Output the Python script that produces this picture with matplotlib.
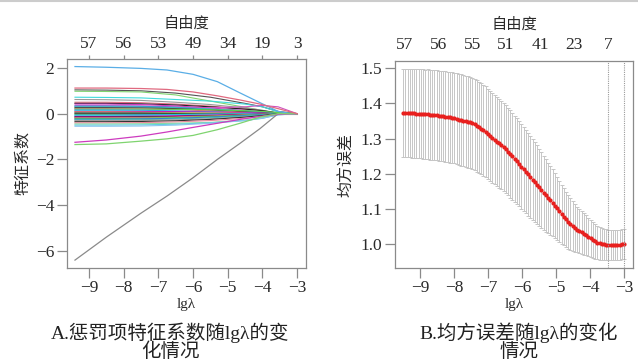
import numpy as np
import matplotlib.pyplot as plt
from matplotlib.lines import Line2D

plt.rcParams['font.family'] = ['Liberation Serif', 'Noto Sans CJK SC']
plt.rcParams['axes.unicode_minus'] = True

# ---- A: coefficient paths (lg lambda knots, coefficient values) ----
big_x = [-9.4, -8.5, -7.5, -6.75, -6.0, -5.3, -4.65, -4.07, -3.55, -3.2, -3.0]
big_paths = [
    [2.06, 2.03, 1.98, 1.91, 1.72, 1.40, 0.91, 0.48, 0.10, 0.01, 0.0],
    [-6.40, -5.40, -4.35, -3.60, -2.80, -2.00, -1.30, -0.65, 0.0, 0.0, 0.0],
    [-1.25, -1.15, -0.98, -0.80, -0.60, -0.42, -0.25, -0.12, -0.03, 0.0, 0.0],
    [-1.35, -1.32, -1.20, -1.10, -0.95, -0.70, -0.42, -0.15, 0.0, 0.0, 0.0],
    [1.12, 1.12, 1.10, 1.06, 0.95, 0.78, 0.60, 0.42, 0.22, 0.08, 0.0],
]
big_colors = ['#5aaee6', '#8a8a8a', '#cd3bbf', '#7fd46f', '#e06a80']

path_x = [-9.4, -8.5, -7.5, -6.5, -5.5, -4.5, -4.0, -3.55, -3.0]
upper_paths = [
    [1.04, 1.03, 1.00, 0.90, 0.72, 0.45, 0.30, 0.10, 0.0],
    [0.98, 0.97, 0.95, 0.82, 0.55, 0.28, 0.14, 0.0, 0.0],
    [0.72, 0.71, 0.69, 0.62, 0.55, 0.42, 0.30, 0.08, 0.0],
    [0.62, 0.61, 0.58, 0.50, 0.40, 0.25, 0.15, 0.03, 0.0],
    [0.50, 0.50, 0.48, 0.42, 0.33, 0.20, 0.12, 0.02, 0.0],
    [0.45, 0.45, 0.43, 0.38, 0.30, 0.20, 0.13, 0.03, 0.0],
    [0.42, 0.42, 0.40, 0.34, 0.25, 0.14, 0.08, 0.0, 0.0],
    [0.35, 0.35, 0.34, 0.30, 0.26, 0.30, 0.36, 0.30, 0.0],
    [0.33, 0.33, 0.32, 0.28, 0.20, 0.10, 0.05, 0.0, 0.0],
    [0.30, 0.30, 0.29, 0.26, 0.20, 0.13, 0.08, 0.02, 0.0],
    [0.26, 0.26, 0.25, 0.22, 0.16, 0.08, 0.04, 0.0, 0.0],
    [0.22, 0.22, 0.21, 0.18, 0.12, 0.06, 0.02, 0.0, 0.0],
    [0.20, 0.20, 0.20, 0.19, 0.17, 0.13, 0.10, 0.05, 0.0],
    [0.16, 0.16, 0.15, 0.12, 0.08, 0.04, 0.02, 0.0, 0.0],
    [0.13, 0.13, 0.12, 0.10, 0.06, 0.02, 0.0, 0.0, 0.0],
    [0.10, 0.10, 0.10, 0.09, 0.07, 0.04, 0.02, 0.0, 0.0],
    [0.07, 0.07, 0.06, 0.05, 0.03, 0.01, 0.0, 0.0, 0.0],
    [0.04, 0.04, 0.04, 0.03, 0.02, 0.01, 0.0, 0.0, 0.0],
    [0.02, 0.02, 0.02, 0.01, 0.0, 0.0, 0.0, 0.0, 0.0],
]
upper_colors = ['#555555', '#7fd46f', '#3fd9dc', '#999999', '#e06a80', '#222222',
                '#cd3bbf', '#d050c0', '#2f8fe0', '#3fb8b8', '#333333', '#e06a80',
                '#61d04f', '#2297e6', '#28e2e5', '#cd0bbc', '#e8c030', '#9e9e9e',
                '#111111']

lower_paths = [
    [0.0, 0.0, 0.0, 0.0, 0.0, 0.0, 0.0, 0.0, 0.0],
    [-0.03, -0.03, -0.03, -0.02, -0.01, 0.0, 0.0, 0.0, 0.0],
    [-0.06, -0.06, -0.05, -0.04, -0.02, -0.01, 0.0, 0.0, 0.0],
    [-0.09, -0.09, -0.08, -0.06, -0.04, -0.02, -0.01, 0.0, 0.0],
    [-0.12, -0.12, -0.11, -0.09, -0.06, -0.03, -0.01, 0.0, 0.0],
    [-0.15, -0.15, -0.14, -0.12, -0.09, -0.05, -0.02, 0.0, 0.0],
    [-0.18, -0.18, -0.17, -0.14, -0.10, -0.05, -0.02, 0.0, 0.0],
    [-0.21, -0.21, -0.20, -0.17, -0.12, -0.06, -0.03, 0.0, 0.0],
    [-0.24, -0.24, -0.23, -0.20, -0.15, -0.08, -0.04, 0.0, 0.0],
    [-0.27, -0.27, -0.26, -0.23, -0.18, -0.10, -0.05, 0.0, 0.0],
    [-0.30, -0.30, -0.29, -0.27, -0.22, -0.14, -0.08, -0.01, 0.0],
    [-0.35, -0.35, -0.34, -0.31, -0.25, -0.15, -0.08, 0.0, 0.0],
    [-0.40, -0.40, -0.39, -0.36, -0.30, -0.20, -0.12, -0.02, 0.0],
    [-0.45, -0.45, -0.44, -0.42, -0.38, -0.28, -0.18, -0.03, 0.0],
    [-0.50, -0.50, -0.49, -0.46, -0.40, -0.30, -0.20, -0.05, 0.0],
    [-0.55, -0.55, -0.54, -0.50, -0.42, -0.30, -0.20, -0.05, 0.0],
]
lower_colors = ['#e06a80', '#61d04f', '#2297e6', '#28e2e5', '#cd0bbc', '#222222',
                '#e06a80', '#61d04f', '#2f6fd0', '#3fb8b8', '#9e9e9e', '#333333',
                '#e8889a', '#8fd8a0', '#5fd0e0', '#8cc4ee']

df_ticks_a = [-9, -8, -7, -6, -5, -4, -3]
df_labels_a = ['57', '56', '53', '49', '34', '19', '3']

# ---- B: cross-validated mean squared error ----
lg_lambda = np.linspace(-9.5, -3.0, 100)
cv_mean = [
    1.373, 1.373, 1.373, 1.372, 1.372, 1.372, 1.371, 1.371, 1.371, 1.370,
    1.369, 1.369, 1.368, 1.367, 1.366, 1.366, 1.365, 1.364, 1.363, 1.362,
    1.361, 1.360, 1.359, 1.358, 1.356, 1.354, 1.353, 1.351, 1.349, 1.347,
    1.346, 1.343, 1.340, 1.336, 1.332, 1.328, 1.323, 1.319, 1.314, 1.308,
    1.302, 1.297, 1.291, 1.286, 1.281, 1.276, 1.270, 1.263, 1.256, 1.249,
    1.242, 1.235, 1.228, 1.220, 1.213, 1.206, 1.198, 1.191, 1.183, 1.176,
    1.169, 1.161, 1.153, 1.146, 1.138, 1.131, 1.124, 1.117, 1.109, 1.101,
    1.093, 1.085, 1.077, 1.070, 1.063, 1.057, 1.051, 1.046, 1.041, 1.037,
    1.033, 1.029, 1.025, 1.020, 1.016, 1.012, 1.008, 1.004, 1.002, 1.000,
    0.999, 0.998, 0.997, 0.997, 0.997, 0.998, 0.998, 0.998, 0.999, 0.999,
]
cv_se = [
    0.126, 0.126, 0.126, 0.126, 0.127, 0.127, 0.127, 0.127, 0.127, 0.127,
    0.127, 0.128, 0.128, 0.128, 0.128, 0.128, 0.128, 0.128, 0.128, 0.129,
    0.129, 0.129, 0.129, 0.129, 0.129, 0.130, 0.130, 0.130, 0.130, 0.130,
    0.130, 0.130, 0.130, 0.130, 0.129, 0.129, 0.129, 0.129, 0.128, 0.128,
    0.128, 0.127, 0.127, 0.126, 0.126, 0.125, 0.125, 0.124, 0.124, 0.123,
    0.122, 0.122, 0.121, 0.120, 0.119, 0.118, 0.117, 0.116, 0.115, 0.113,
    0.112, 0.110, 0.108, 0.105, 0.103, 0.100, 0.098, 0.095, 0.092, 0.089,
    0.087, 0.084, 0.081, 0.078, 0.076, 0.073, 0.070, 0.068, 0.065, 0.063,
    0.061, 0.059, 0.057, 0.055, 0.053, 0.051, 0.050, 0.048, 0.047, 0.046,
    0.045, 0.044, 0.044, 0.043, 0.043, 0.043, 0.043, 0.043, 0.043, 0.043,
]
df_ticks_b = [-9.47, -8.47, -7.47, -6.47, -5.47, -4.47, -3.47]
df_labels_b = ['57', '56', '55', '51', '41', '23', '7']

spine_col = '#8a8a8a'
text_col = '#2a2a2a'
tick_fs = 12.5


def style_axes(ax):
    for s in ax.spines.values():
        s.set_color(spine_col)
        s.set_linewidth(0.9)
    ax.tick_params(axis='both', colors=spine_col, labelcolor=text_col,
                   length=7, width=0.9, labelsize=tick_fs, pad=2)


fig = plt.figure(figsize=(6.38, 3.62), dpi=100)
fig.add_artist(Line2D([0, 1], [0.998, 0.998], color='#cccccc', lw=1.5))

# ---------- panel A ----------
ax1 = fig.add_axes([0.105, 0.26, 0.375, 0.577])
for vals, col in zip(upper_paths + lower_paths, upper_colors + lower_colors):
    ax1.plot(path_x, vals, color=col, lw=0.8)
for vals, col in zip(big_paths, big_colors):
    ax1.plot(big_x, vals, color=col, lw=0.9)
ax1.set_xlim(-9.63, -2.74)
ax1.set_ylim(-6.74, 2.39)
ax1.set_xticks([-9, -8, -7, -6, -5, -4, -3])
ax1.set_yticks([-6, -4, -2, 0, 2])
style_axes(ax1)
ax1.set_xlabel('lgλ', fontsize=11, color=text_col, labelpad=1)
ax1.set_ylabel('特征系数', fontsize=11.5, color=text_col, labelpad=4)
top1 = ax1.secondary_xaxis('top')
top1.set_xticks(df_ticks_a, labels=df_labels_a)
top1.tick_params(colors=spine_col, labelcolor=text_col, length=3, width=0.9,
                 labelsize=tick_fs, pad=2)
top1.spines['top'].set_visible(False)
top1.set_xlabel('自由度', fontsize=11, color=text_col, labelpad=6)

# ---------- panel B ----------
ax2 = fig.add_axes([0.619, 0.26, 0.373, 0.571])
ax2.errorbar(lg_lambda, cv_mean, yerr=cv_se, fmt='none', ecolor='#c6c6c6',
             elinewidth=0.7, capsize=1.2, capthick=0.7)
ax2.plot(lg_lambda, cv_mean, 'o', color='#e8201e', ms=3.0, mec='none')
i_min = int(np.argmin(cv_mean))
thresh = cv_mean[i_min] + cv_se[i_min]
i_1se = max(i for i, v in enumerate(cv_mean) if v <= thresh)
ax2.axvline(lg_lambda[i_min], color='#9a9a9a', lw=0.8, ls=(0, (1, 1)))
ax2.axvline(lg_lambda[i_1se], color='#9a9a9a', lw=0.8, ls=(0, (1, 1)))
ax2.set_xlim(-9.74, -2.74)
ax2.set_ylim(0.932, 1.52)
ax2.set_xticks([-9, -8, -7, -6, -5, -4, -3])
ax2.set_yticks([1.0, 1.1, 1.2, 1.3, 1.4, 1.5])
ax2.set_yticklabels(['1.0', '1.1', '1.2', '1.3', '1.4', '1.5'])
style_axes(ax2)
ax2.set_xlabel('lgλ', fontsize=11, color=text_col, labelpad=1)
ax2.set_ylabel('均方误差', fontsize=11.5, color=text_col, labelpad=4)
top2 = ax2.secondary_xaxis('top')
top2.set_xticks(df_ticks_b, labels=df_labels_b)
top2.tick_params(colors=spine_col, labelcolor=text_col, length=0,
                 labelsize=tick_fs, pad=6)
top2.spines['top'].set_visible(False)
top2.set_xlabel('自由度', fontsize=11, color=text_col, labelpad=6)

# ---------- captions ----------
fig.text(170 / 638, 1 - 333 / 362, 'A.惩罚项特征系数随lgλ的变', ha='center',
         va='center', fontsize=14, color='#222222')
fig.text(170 / 638, 1 - 352 / 362, '化情况', ha='center', va='center',
         fontsize=14, color='#222222')
fig.text(519 / 638, 1 - 333 / 362, 'B.均方误差随lgλ的变化', ha='center',
         va='center', fontsize=14, color='#222222')
fig.text(519 / 638, 1 - 352 / 362, '情况', ha='center', va='center',
         fontsize=14, color='#222222')

fig.savefig('out.png', dpi=100)
